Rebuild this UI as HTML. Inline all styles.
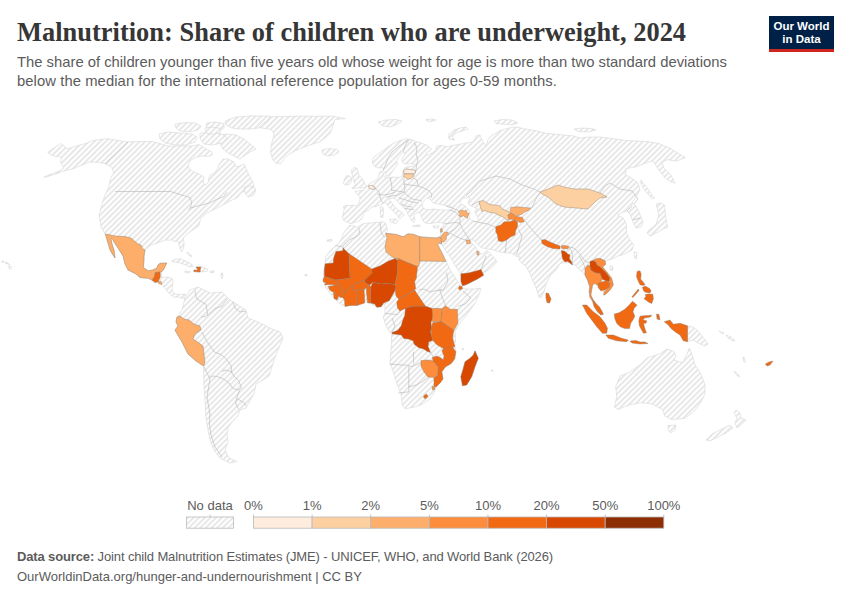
<!DOCTYPE html>
<html><head><meta charset="utf-8">
<style>
html,body{margin:0;padding:0;background:#fff;}
body{width:850px;height:600px;position:relative;overflow:hidden;font-family:"Liberation Sans",sans-serif;}
.title{position:absolute;left:17px;top:17.2px;font-family:"Liberation Serif",serif;font-weight:bold;font-size:26.4px;color:#363636;white-space:nowrap;letter-spacing:0.035px;}
.sub{position:absolute;left:17px;font-size:14.8px;color:#5b5b5b;white-space:nowrap;}
.logo{position:absolute;left:769px;top:16px;width:65px;height:29px;background:#002147;border-bottom:3px solid #ce261e;color:#fff;font-weight:bold;font-size:11.5px;line-height:12.5px;text-align:center;padding-top:4px;box-sizing:content-box;}
.foot{position:absolute;left:17px;font-size:13px;color:#5b5b5b;white-space:nowrap;}
.lg{position:absolute;font-size:13px;color:#5b5b5b;white-space:nowrap;}
svg{position:absolute;left:0;top:0;}
</style></head><body>
<svg width="850" height="600" viewBox="0 0 850 600">
<defs><pattern id="h" patternUnits="userSpaceOnUse" width="4" height="4" patternTransform="rotate(-45 2 2)"><rect x="-1" y="0" width="6" height="4" fill="#fff"/><path d="M -1,2 l 6,0" stroke="#d9d9d9" stroke-width="1.2"/></pattern></defs>
<g fill="url(#h)" stroke="#d6d6d6" stroke-width="0.6" stroke-linejoin="round">
<polygon points="47.6,152.2 54,148 60.6,143.5 63.3,145.2 67,149 72,147.5 78,145.5 81.2,144.6 85.5,143.5 92,140.8 98.5,139.7 107.2,138.7 113.6,139.7 120.1,140.8 126.6,141.9 140,141.5 151,141.4 158,143 168,146 178,146 192,146 199,144.5 206,149 212,152 212,155 208,156.5 203,156 197,157 191,160 188,165 189,169 192,171 196,173 200,174.5 204,177 203,182 205,185 208,183 209,178 210,175 213,174 216,171 218,168 219,164 221,162 223,159 228,159 234,162 236,167 240,166 244,164 246,168 248,173 250,177 253,182 254,187 250,188 246,190 241,193 237.6,197.6 230,201 223.5,204.7 218,207.5 213,210 205.9,213.5 200.6,218.8 198.8,225.9 193.5,229.4 188.5,233 186.8,234.8 184.7,236.6 183.3,238.4 184,242.6 184,245 183,250 181.2,251.8 179.8,247.9 178.4,242.6 177.7,241.2 174.1,241.4 172.4,240.1 164.6,240.1 159,242.5 151,245 145,250 144,256 144,260 143.3,267.5 148.3,270.8 152.5,270 156.7,268.3 158,265 160,263.3 166.7,263 165,266.7 163.3,270 161.7,271.7 161.5,275 161.7,277.5 167.5,277 171.7,278.3 173,280 172.5,285.8 172,290.8 175,294 180,294.5 185,294 186,297 185,298.3 181.7,298.3 178.3,296.7 175,297.5 171.7,295.8 168.3,292.5 165,288.3 162,284.6 158,282 155,282.5 152.5,280.4 148.3,278.3 144,278 140,277.5 136,274 128,270 125,264 123,256 118,248 114,242 112,238 111,239 112,244 114,250 115,258 113,255 110,250 108,243 105,234 101,227 99,215 101,208 103,201 105,195 108.2,188.5 109.3,184.2 110.4,178.7 112,175.5 113.6,173.3 112.6,169 109.3,165.7 105,163.6 98.5,162.5 93,162 87.7,162.5 83.3,164.7 77.9,166.8 72.5,169 67,170.1 61.7,171.7 56.2,173.9 50.8,175.5 44.3,177.7 44,177 50,174.5 56,172.3 61,170 64,168 61.7,164.7 60.6,161.4 61.7,157.1 54,156 50,154.5"/>
<polygon points="185,297 190,290 198,287 204,290 210,293 222,292 230,300 238,305 246,310 248,318 258,322 270,328 280,332 283,338 278,350 274,360 271,370 269,376 263,380 256,384 254,394 248,404 246,408 240,410 238,416 232,422 228,428 227,434 228,442 225,450 229,458 237,461.6 230,463 220,458 214,450 210,440 208,430 206,418 205,400 204,386 203.6,370 203.6,366 196,361 188,354 182,342 176,332 175,330 178,326 176,322 177,317 178,316 182,310 184,302"/>
<polygon points="254.7,125 250,120.3 250,116.2 273.5,116.8 299.4,116.2 332.4,116.2 345.3,118.5 334.7,119.7 333.5,123.8 332.4,128.5 330,133.2 326.5,136.8 320.6,141.5 313.5,143.8 306.5,146.2 300.6,148.5 294.7,150.9 288.8,154.4 284.1,159.1 280.6,163.8 275.9,163.2 272.4,159.1 270.6,152.1 271.2,145 273,139.1 274.1,133.2 271.2,129.7 265.3,128.5 257,127.4"/>
<polygon points="322,150 328,148.6 337,149.4 339,152 334,155 328,156 323,154"/>
<polygon points="218,136 226,134 236,135 244,139 250,144 256,149 250,152 244,156 240,159 234,156 228,153 223,149 220,143"/>
<polygon points="225,121 236,117 250,116 262,116 270,116 268,120 262,124 258,128 250,129 240,129 232,128 226,125"/>
<polygon points="175,124 185,122.6 195,123 201,126 198,130 190,131.8 180,131 176,128"/>
<polygon points="207,123 215,122 224,123.5 224,128 218,131.5 210,131 206,127"/>
<polygon points="159,134 168,132 180,133 192,134 197,137 195,142 186,145 175,145 165,143 160,139"/>
<polygon points="200,133 210,132.5 222,134 227,138 222,143 212,145 204,144 200,139"/>
<polygon points="205,128 212,127 221,128.5 220,133 212,134.5 206,133"/>
<polygon points="244,187 250,186 256,189 254,195 248,197 245,193"/>
<polygon points="171.7,261.3 175,259.2 180,258.8 185,260.8 190,263.3 193.3,265.8 190,267 185.8,265 180.8,263.3 175.8,262 172.5,262"/>
<polygon points="196.3,267 201,266.8 204,267.5 208,269.5 207,271.5 203,271.7 200.2,272 196,271.8 193.8,271.5 194,270 197.5,270.2 197.5,268.5"/>
<polygon points="185,271 190,271.5 189,273 185,272.5"/>
<polygon points="210,271 214,271 214,272.5 210,272.5"/>
<polygon points="350,223.75 348.3,222.5 345.8,221.7 343.3,220 342.5,216.7 343.3,213.3 344.2,209.2 343.3,206.7 346.7,205.4 353.3,205.4 358,205.4 358.8,203.3 360,200 359.7,196.7 357.2,194.2 354.7,191.7 358.8,190.8 363.5,190 366.3,186.7 368,185 371.3,182.5 374.7,180.8 378,178.3 379,175 379.7,172.5 381,170.8 383,172 383.5,174.5 384,176.5 386,178 390,177.5 393.3,177 398.3,177.5 401.7,176.7 402.5,174.2 403,171 404,169 405.8,167.1 410,166.5 415,165.8 416.5,165.3 415,164.2 411.7,163.8 407.5,164.2 403.3,163.3 401.7,160 403.3,156.7 405,153.3 403.3,151.7 401.7,154.2 398.3,157.5 396.7,160.8 397.5,164.2 395.8,166.7 393.3,170 391.7,172.5 390,175 386.7,176.7 385.5,174 384.2,171.7 383.3,170 382.5,166.7 379.2,168.3 375,166.7 372.5,163.3 372.5,159.2 374.1,157 378.8,153.5 383.5,150 388.2,146.5 394.1,143 400,140.6 405.9,138.8 410.6,139.4 415.3,141.2 421.2,143 427,145.3 431.8,148.8 429.4,151.2 426,153 428,155 432,153 436,150 436.5,146.5 440,145.3 447,146.7 456.5,144.8 465.9,143 473,142 476,136 480,135 483,142 486,146 488,140 490.4,136.4 499.8,130.7 509.2,127.9 516.7,126.9 524.2,128.8 535.5,130.7 546.8,133.5 560,134.5 564,135 574,136 580,138 588,137 600,137 626.5,140.6 647,141.5 658.3,143.3 670,148.3 678.3,153.3 685.3,157.5 676.5,161 667.6,159.7 662,162 664,168.5 670.6,174.4 675,183.2 670.6,181.8 664.7,177.4 658.8,170 653,161 647,162.6 635.3,167 626.5,168.5 625,174.4 632.4,178.8 638,183 640,190 636,197 632,203 636,206 639,212 643,222 641,227 636,228 633,222 630,214 627,211 623,212 618,215 623.5,218.5 626.5,225 626.5,233.2 630,240 633.8,245 632,250 628,252 622,255 618,256 612,259 608,260 605,260.8 605,265 601.7,268.3 606.7,273.3 611.7,280 613.3,285 610,290 605,295 603.7,295 604.2,291.7 600.8,290.8 598.3,287.5 595,283.3 592.5,285 591.7,290 590.8,295 593.3,300 595.8,303.3 599.2,306.7 601.7,310.8 603.3,314.2 600.8,315 597.5,311.7 594.2,306.7 592.5,302 590,297.5 589.2,291.7 589.7,286.7 587.5,280 585,275 582,272 578,268 575,265 571.7,263.3 566,262 562,263 560,264 556,270 550,276 546,284 544,292 541,298 539,297 536,288 533,281 530,274 526,266 522.5,263.8 518.8,260 520,256.9 516.3,256.3 511.3,253.1 502.5,252.5 499.3,251.8 492.2,249.7 488,249 481,247.6 473.8,240.5 469,239 471,242 475.2,246.2 478,251.8 482.3,254 486.6,250.4 489.4,252.5 493.7,257.5 497.2,261.7 492.2,267.4 488,270.2 483.7,273 481,275 478,278.7 472.4,281.6 466.7,284.4 462.5,285.8 461,283 460.4,273 455.4,266 449.7,256 444,248 441.5,244 440.3,236.8 440.9,232 442,227.4 444.4,223.8 440.9,222.6 436.2,222.6 429,223.8 424.4,222.6 422,219 420.9,214.4 418.5,212 416,213.2 413.8,215.6 415,219 413.8,222.6 411.5,220.3 410.3,218 408,214.4 406.8,211 403.2,207.4 398.5,202.6 395,198.5 392.6,198 389,199 391.5,202.6 395,206.8 398.5,210.3 402,212.6 404.4,215 401.5,216.8 399.7,219.1 397.4,215.6 393.8,212 389.1,207.4 385.6,202.6 383,203.5 380,205 376,206.5 372,207 369.2,210 365,211.7 363.3,214.2 362.5,217.5 360.8,220 357.5,221.7 353.3,222.9"/>
<polygon points="350,225 353.3,225.8 357.5,227 363.3,223.75 369.2,222.9 375.8,222.5 380,222.1 383.3,221.7 385.8,223.3 386.7,226.7 387.5,230.8 385.6,233.2 390.3,233.8 396.2,234.4 403.2,236.8 408,233.8 413.8,234.4 419.7,236.8 428,237.4 436.2,238 440.3,236.8 441.5,239 441.5,244 439,243 437.7,244.7 441.5,252 445.5,260.3 451.2,271.7 456.8,280.2 459.7,284.4 461,287 466,289 474,289 481,288 480,292 475,303.3 466.7,315 458.3,325 455,331.7 455.5,340 454.7,345.9 455.9,351.8 454.7,358.8 451.2,363.5 445.3,367 441.8,371.8 443,378.8 440.6,382.4 436,387 434.7,391.8 430,398.8 423,404 414.7,407 405.3,408.8 402.4,405.9 401,394 397,383.5 393.5,373 390,362.4 391,349.4 391.5,340 391.7,334 388.3,330 385,323.3 383.3,316.7 385,313.3 385,306 383.3,304 378.6,307.4 374,305.6 370,303.3 366,302 356,304 350,305.5 344,306 339,303 334,298 330,293 326,288 323,280 324,270 325,262 326,256 330,251 333,248 336.7,245 339.2,242.5 341.7,238.3 343.3,233.3 346.7,229.2"/>
<polygon points="353.8,167.5 357.2,168.3 358,171.7 358.8,175 361.3,177.5 363,180 364.7,183.3 365.9,185.8 364.7,187.5 361.3,187.9 358,187.9 354.7,188.75 351.8,188.3 353.8,186.25 355.9,185 354.7,183.3 353.8,180.8 353,178.3 352.6,175.8 351.8,173.3 351.3,170"/>
<polygon points="346.3,175.8 349.7,175.8 351.75,178.3 351.3,181.7 349.7,184.2 345.5,185 343.4,183.3 344.3,180"/>
<polygon points="378,122 386,120 396,119.5 402,121 398,124 390,127 383,126"/>
<polygon points="426,119.5 432,119 436,120 432,121.5 427,121"/>
<polygon points="448,135 454,130 460,128 466,127 468,129 462,131 456,133 452,137 455,140 449,139"/>
<polygon points="494,121 502,119.5 512,120 518,123 512,125 502,124 496,123.5"/>
<polygon points="574,129 582,128 592,128.5 596,130 588,132 578,131.5"/>
<polygon points="641,180 644,184 648,189 652,195 654.4,198 652,199 648,194 644,189 641,184"/>
<polygon points="656,204 661,203 664.7,205.3 665,212 666,218.5 667.6,227.4 663,229 658.8,231.8 654,234 650,236.2 647,233 649,230 655.9,224.4 658.8,215.6 657.4,208.2"/>
<polygon points="634,252 637,252.5 636.5,259 634.5,258"/>
<polygon points="610,266 613,266.5 612.5,270.5 610,270"/>
<polygon points="546,293 548.5,293.5 551,299 549.5,303 547,302.5 546,298"/>
<polygon points="389.5,219.5 396,219 398.2,220.5 396,223.8 391,222"/>
<polygon points="380.2,207 382.8,206.7 383.5,210 383,217.5 380.5,217 380.3,212"/>
<polygon points="413,225.5 420,225 420,226.3 413,226.8"/>
<polygon points="433,226 439,225.8 438,228 434,228"/>
<polygon points="475,350.8 478.3,358.3 475,366.7 471.7,376.7 466.7,385 462.5,385.8 460.8,376.7 463.3,368.3 465,361.7 470,358.3 473.3,355"/>
<polygon points="615.6,387 620,375.9 629,372.5 640.2,364.7 647,358 653.6,355.8 660.3,353.5 667,349 673.8,351.3 676,355.8 673.8,360.2 682.7,362.5 687.2,353.5 689.4,348 691.6,353.5 695,364.7 700.6,373.6 705,384.8 705,393.8 700.6,402.7 693.9,411.6 685,418.3 671.5,419.5 664.8,416.1 662.6,409.4 658.1,407.2 651.4,403.8 640.2,402.7 629,405 617.9,409.4 614.5,407.2 616.8,396"/>
<polygon points="668,425.5 676,425 675,430 671,433 668,430"/>
<polygon points="736,410 740,413 741,418 746,420 741,425 737,428 735,423 737,418 734,413"/>
<polygon points="730,425 733,428 726,433 718,437 710,441 706,440 712,434 720,430"/>
<polygon points="687.5,325.8 693,327 698,331 702,336 708,344 705,346 698,343 693,340 687.5,341.7"/>
<polygon points="734,371.5 736,372 740,376.5 738.5,377"/>
<polygon points="719,331 724,333 722,334"/>
<polygon points="2,261 3.6,260.8 3.2,262.3 2.1,262.2"/>
<polygon points="5,262 7,262.6 9,263.8 10,265 8.6,264.6 6.5,263.5 5,262.9"/>
<polygon points="9,266 11.5,266.8 11.2,268.6 9.5,269.3 8.8,267.5"/>
<polygon points="726,335 731,337 735,340.5 733,341 728,338"/>
<polygon points="743,357 744.8,358 745,362.5 743.6,361.5"/>
<polygon points="462,348.5 463.5,348.6 463.4,349.8 462,349.8"/>
<polygon points="491.5,370 493,370 493,371.2 491.5,371.2"/>
<polygon points="187,252 189,253.5 192,256 191.5,257 188.5,255 186.8,253"/>
<polygon points="221,273 222.5,273 223,276 222,279 221.3,277"/>
<polygon points="305,274.5 307,274.5 307,276 305,276"/>
<polygon points="327,240 332,239.5 332,241 327,241.3"/>
</g>
<g fill="#fff" stroke="#d6d6d6" stroke-width="0.6">
<polygon points="422,203.8 424.4,200.3 426.8,198 430.3,199 432.6,202.6 437.4,203.8 443.2,205 449.1,206.2 453.8,208.5 450.3,209.7 445.6,210.3 439.7,209.7 433.8,209 428,209.7 423.2,208.5"/>
<polygon points="459.8,202.3 462.8,198.5 468,197 470.3,198.5 468,202.3 469.5,205.3 473.3,206.8 477.8,209 474.8,210.5 475.5,213.5 477.8,217.3 478.5,220.3 475.5,221.8 472.5,221 469.5,218 468.8,215 470.3,212.8 468,209 465,206 462,204.5"/>
</g>
<g fill="none" stroke="#bfbfbf" stroke-width="0.7" stroke-linejoin="round">
<polyline points="115,191.5 170.6,191.5 175.9,193.2 184.7,195.9 190,197.6 191.8,203 190,208.2 188.2,210"/>
<polyline points="190,208.2 198.8,205.6 209.4,203 216.5,199.4 223.5,196.8 227,192.4"/>
<polyline points="128,142 105,164"/>
<polyline points="195,291 196.5,298.5 201,301.5 206.2,304.5 207,310.5 207.7,315"/>
<polyline points="201,317 205,316.5 207.7,315 214.5,309 222,306 225,301.5 228,299"/>
<polyline points="233,302 235,308 240,312 246,311"/>
<polyline points="202,332 206,340 210,346 214.5,352 222,355 226.5,359.5 231,365.5 231.8,373"/>
<polyline points="204,367 207,373 210,379 208.5,388 207,397 208.5,406 210,415 209.3,424 211,435 215,447 222,457"/>
<polyline points="210,377.5 213,376 217.5,376.7 223.5,379 229.5,383.5 232.5,388 237,390 241.5,388 238.5,380.5 234,376 231,371.5 225,370 222,371.5"/>
<polyline points="240,389.5 237,397 235.5,403 238.5,409"/>
<polyline points="237,398.5 244.5,403 246,406"/>
<polyline points="358.8,228 360,233.8 355.3,237.4 349.4,239.7 343.5,245.6 342.4,248 343.5,248"/>
<polyline points="335.3,245.6 342.4,246.8"/>
<polyline points="380,223.2 381.2,232.6 384.7,237.4"/>
<polyline points="418.7,290 424,289 430,292 436,290.5 442,290"/>
<polyline points="446.6,272.5 447.8,281.8 443,290 439.6,290"/>
<polyline points="439.6,290 443,299.3 445.5,305"/>
<polyline points="463,291 471,298.1 465.3,304 458.3,306.3"/>
<polyline points="389.4,364 398.2,364.7 407.6,365.3 411.2,366.5"/>
<polyline points="408.8,366.5 408.8,387"/>
<polyline points="398.2,393 408.8,391.8 408.8,387"/>
<polyline points="408.8,387 417,384.7 423,381.2 428,377"/>
<polyline points="413.5,351.8 413.5,363.5"/>
<polyline points="411.2,366.5 418,364 421,362"/>
<polyline points="430.5,352.5 433,356 432.4,357.6"/>
<polyline points="385,313.3 392,314 397.5,314.5 400,311"/>
<polyline points="392,318 395,326 392,332.6"/>
<polyline points="342.5,290.5 340,294 338.4,297"/>
<polyline points="373,186 376,189 379,192 380,196 381,200 383,203"/>
<polyline points="390,177.5 391,182 392,187 391,190"/>
<polyline points="377,194 383,195 390,194 395,192"/>
<polyline points="404,178.5 404,184 405,189 404,192"/>
<polyline points="391,190 397,191 404,192"/>
<polyline points="386,197 392,196 398,195 402,193 404,192"/>
<polyline points="413,178 417,180 418,186"/>
<polyline points="418,186 424,188 428,190 432,194 431,198"/>
<polyline points="404,184 410,185 418,186"/>
<polyline points="404,192 408,196 412,199 418,200 422,201"/>
<polyline points="399,198 406,200 412,202 418,203"/>
<polyline points="401,204 406,206 412,207"/>
<polyline points="404,208 408,209 414,209.5"/>
<polyline points="416.5,165.3 418,160 416,154 417,148 414,142"/>
<polyline points="383.3,170 386,164 388,158 392,152 398,147 405,142 410,139.4"/>
<polyline points="403.3,151.7 405,146 408,141"/>
<polyline points="416.5,165.3 416,170 415.5,172.5 413.5,176.5"/>
<polyline points="444.4,223.8 450,223 456,222.5 460,223.5"/>
<polyline points="450,210 455,212 458,214 460,218 460,223.5"/>
<polyline points="446,206 452,208 458,210.5"/>
<polyline points="449,232.5 454,230 458,226 460,223.5"/>
<polyline points="460,223.5 462,228 465,233 469,239"/>
<polyline points="449,232.5 455,236 462,239 466,240"/>
<polyline points="481,269.5 484,262 486,256"/>
<polyline points="506.5,240.4 506,246 505,252.5"/>
<polyline points="473,221 480,222.6 488,224 495.8,227.4"/>
<polyline points="472,205 479,201.4"/>
<polyline points="466,196 472,190 480,181 496,176 510,179 522,185 534,189 540,192"/>
<polyline points="531.7,208 534,203 537,197 540,192"/>
<polyline points="600,193 605,186 610,183 620,189 632,191 638,199 634,204"/>
<polyline points="524,219 528,225 534,232 541.6,240"/>
<polyline points="569,247 574,248 578,252 582,257 586,262 590.8,262.5"/>
<polyline points="518,229 522,236 520,243 518,250 516.3,254.7"/>
<polyline points="569,247 572,252 572.5,258 572,264.5"/>
<polyline points="627,211 632,206"/>
<polyline points="633,220 640,218"/>
<polyline points="585,268.3 583,262 579,256"/>
</g>
<g stroke="#8c7a6b" stroke-width="0.5" stroke-opacity="0.85" stroke-linejoin="round">
<polygon fill="#fdae6b" points="105.4,234 111,235 115,236 125,236.6 131,238 138,244 141,245 143,249 145,250 144,256 144,260 143.3,267.5 148.3,270.8 152.5,270 156.7,268.3 158,265 160,263.3 166.7,263 165,266.7 163.3,270 161.7,271.7 160,272 155.4,272.5 155,274.6 154.6,276.3 153.3,278.3 152.5,280.4 148.3,278.3 144,278 140,277.5 136,274 128,270 125,264 123,256 118,248 114,242 112,238 111,239 112,244 114,250 115,258 113,255 110,250 108,243"/>
<polygon fill="#f16913" points="155.4,272.5 160,272 160.4,276.7 158,281.7 155,282.5 152.5,280.4 153.3,278.3 154.6,276.3 155,274.6"/>
<polygon fill="#fdae6b" points="158,281.7 160.5,281 162,283 161.5,284.6 158.5,283.5"/>
<polygon fill="#f16913" points="196.3,267 200.9,267 200.3,270 200.2,272 196,271.8 193.8,271.5 194,270 197.5,270.2 197.5,268.5 196.3,268.2"/>
<polygon fill="#fdae6b" points="177,317 180,316 184,319 189,320 194,324 200,326 201,330 195,334 193,339 199,343 203,346 204,354 205,362 203.6,366 196,361 188,354 182,342 176,332 175,330 178,326 176,322"/>
<polygon fill="#fdae6b" points="385.6,233.2 390.3,233.8 396.2,234.4 403.2,236.8 408,233.8 413.8,234.4 419.7,236.8 419.8,261 418.7,266.7 417.5,266.7 397.7,258.5 395,258.4 391,256 386,252 385,246 387,238"/>
<polygon fill="#fdae6b" points="419.7,236.8 428,237.4 436.2,238 440.3,236.8 441.5,239 441.5,244 439,243 437.7,244.7 441.5,252 445.5,260.3 446,261.4 419.8,261"/>
<polygon fill="#d94801" points="343,248 349,253.7 350,278.2 335.5,280 324.4,276.5 324.3,270 325.2,263.7 333.2,263 333.7,257.8 336,251.4 343,250.8"/>
<polygon fill="#f16913" points="349,253.7 371.6,268.9 372.2,273 364.6,280 356.5,283.5 351.8,285.8 346,291.6 342.5,290.5 338,284 335.5,280 350,278.2"/>
<polygon fill="#d94801" points="371.6,268.9 379.8,266 388,261.3 395,258.4 397.9,260.2 397.3,274.2 395,284.6 388,283.5 381,284 372.8,282.3 369.3,285.2 364.6,282.3 364.6,280 372.2,273"/>
<polygon fill="#f16913" points="364.6,280 364.6,282.3 369.3,285.2 367,287.5 364,289.5 358,290 354,290.5 351.8,285.8 356.5,283.5"/>
<polygon fill="#d94801" points="371,286.5 372.8,282.3 381,284 388,283.5 395,284.6 396,286.7 395.3,290 392,296 389.3,300.7 386,302 383.3,303.3 381.3,306.7 376.7,307.3 374.7,304 370.5,303 370.5,297.5 370.5,291.6"/>
<polygon fill="#f16913" points="367,287.5 369.3,285.2 371,286.5 370.5,291.6 370.5,297.5 370.5,303 367.5,302.8 366.8,295 366.3,290"/>
<polygon fill="#f16913" points="356.5,290.5 358,290 364,289.5 364.5,296 364.6,303 360,304.5 357,305.6 356.5,298"/>
<polygon fill="#f16913" points="344,292 346,291.6 351.8,285.8 354,290.5 356.5,290.5 356.5,298 357,305.6 350,305.5 345,306.5 344.5,300 342.8,297.5"/>
<polygon fill="#f16913" points="328.5,286.5 336,285 338,284 342.5,290.5 346,291.6 344,292 342.8,297.5 341,297.5 338.4,296 335,293 331,291 329,289"/>
<polygon fill="#f16913" points="333.5,293 337,293.5 338.4,297 337,300 334,298.5"/>
<polygon fill="#f16913" points="323,280 324.4,276.5 331,278.5 335.5,280 338,284 336,285 330,284.5 324.5,285 326,283 323.5,282"/>
<polygon fill="#f16913" points="397.7,258.5 417.5,266.7 416.3,278.3 414.6,281.8 415.7,288.8 409.3,293.5 404.7,295.8 398.8,299.3 396,296 395.3,291 396,287 395,284.6 397.3,274.2 397.9,260.2"/>
<polygon fill="#f16913" points="398.8,299.3 404.7,295.8 409.3,293.5 414.6,290 417.5,294.6 422.2,301.6 425.6,306.3 422.2,306.3 414,306.3 408.2,307.5 402.3,309.8 400,311 397.5,308 396.7,302"/>
<polygon fill="#d94801" points="405,308.8 408.2,307.5 414,306.3 422.2,306.3 425.6,306.3 431.6,308.2 433.4,311.7 432.8,317.5 431,322.7 431.6,328 430.5,331.5 431.6,336 432.8,340.2 428.7,342 428.1,346.6 430.5,352.5 427,351.3 423.5,349 418.8,347.8 414.2,344.3 413,340.8 408.3,339 403.7,338.5 401.3,335 392,333.8 392,332.6 397.8,330.3 401.3,325.7 402.5,321 404.8,315.2 405.4,309.3"/>
<polygon fill="#fd8d3c" points="432.2,308.5 436,308.3 441.6,308.7 442.1,314 441,321.6 436,321.6 432.5,322"/>
<polygon fill="#fd8d3c" points="442.1,308.7 445.6,305.8 450.3,309.3 457.3,309.3 457.9,323.3 453.8,330.3 448,326.2 441,321.6 442.1,314"/>
<polygon fill="#f16913" points="432.8,322.7 441,321.6 448,326.2 453.8,330.3 452.6,337.3 453.8,343.1 455,346.6 450.3,347.8 444.5,349 439.8,346.6 436.3,344.3 432.8,340.2 431.6,336 431,329"/>
<polygon fill="#f16913" points="443,349 452.4,347 455.9,351.8 454.7,358.8 451.2,363.5 445.3,367 441.8,371.8 443,378.8 440.6,382.4 436,387 434,386.5 434,378 437.6,375.3 438.2,367 433,361 432.4,357.6 437,356 441,358 443.5,360 444,356 442,351"/>
<polygon fill="#fd8d3c" points="421,360.5 428,360 433,361 438.2,367 437.6,375.3 434,377.6 428,377 424,372 421,366"/>
<polygon fill="#fd8d3c" points="432,386.5 434.5,386.8 434.7,389.5 432.5,390"/>
<polygon fill="#f16913" points="424,395.5 426.5,394 428,396.5 425.5,398.8 423.5,397.5"/>
<polygon fill="#d94801" points="475,350.8 478.3,358.3 475,366.7 471.7,376.7 466.7,385 462.5,385.8 460.8,376.7 463.3,368.3 465,361.7 470,358.3 473.3,355"/>
<polygon fill="#f16913" points="459,286.5 461.5,286 462.5,288.5 460,290 458.5,289"/>
<polygon fill="#d94801" points="461,273.8 468.2,273 476,271 481,269.5 483.7,275.2 478,278.7 472.4,281.6 466.7,284.4 462.5,285.8 461,281.6"/>
<polygon fill="#fdae6b" points="444.2,232.5 447.8,232 448.8,234.4 446,236.2 446.5,239 444.2,241.7 441.4,242.2 441,239 441.9,235.3"/>
<polygon fill="#fdae6b" points="440.3,229 442,228.5 442.5,232 440.6,232.3"/>
<polygon fill="#fdae6b" points="466,240 470,240 470.5,243.5 467,244"/>
<polygon fill="#fdae6b" points="476.8,251.3 478.8,251.3 479,255 477,255"/>
<polygon fill="#fdae6b" points="458.3,211.3 461.3,210.1 464.3,210.9 465.8,210.1 467.3,213.1 469.1,213.5 468,215.8 467.3,218.4 465.8,217.3 463.5,215.8 461.3,216.9 459,215.8 460.1,213.9"/>
<polygon fill="#fdd0a2" points="479,201.4 483.5,200.6 490,204.6 498.3,205.4 500.8,206.7 502.5,209.2 506.7,210.8 509.2,211.7 510,212.5 507.9,215.8 509.2,219.2 508.8,220.8 505.8,219.2 502.5,216.7 498.3,215 494.2,212.9 490,212.5 485,210.6 482,211.4 480.5,207.5"/>
<polygon fill="#fdae6b" points="510.8,207.5 517.5,206.7 523.3,207.5 530.8,207.9 529.2,210 525,211.7 521.7,214.2 517.5,215.8 514.2,215 510.8,214.2 510,211.7"/>
<polygon fill="#fd8d3c" points="507.9,215 511.7,213.3 515,215.8 518.3,216.7 522.5,217.5 524.2,221.7 520,222.5 515,220 510.8,219.2 509.2,219.2"/>
<polygon fill="#f16913" points="495.8,226.7 500.8,225 504.2,221.7 509.2,221.7 515,220 517.5,222.5 517.5,226.7 515.8,230 515,235 510.8,236.7 506.7,240 501.7,241.7 498.3,240.8 497.5,235 495.8,231.7"/>
<polygon fill="#fdd0a2" points="540,192 548,189 558,185 564,187 574,189 588,189 594,191 600,193 607,197 600,198 594,203 588,209 576,208 564,207 556,204 548,197 542,194"/>
<polygon fill="#f16913" points="541.6,240 545,239.6 550,242 556,244.5 560,246 560,249 553,248.5 547,246.5 542,243.5"/>
<polygon fill="#fd8d3c" points="561.3,245.8 565,245.6 568.8,246.5 568,248.8 564,248.8 561.5,248.3"/>
<polygon fill="#d94801" points="561.3,250.6 565,251.3 567.5,253.8 570,255 569.4,258.8 571.3,261.3 572.5,265 570,263.1 567.5,261.3 565,261.9 562.5,258.8 561.9,255"/>
<polygon fill="#f16913" points="546,293 548.5,293.5 551,299 549.5,303 547,302.5 546,298"/>
<polygon fill="#fd8d3c" points="585,268.3 588,265 590,266 591,270 594,272 597,273 600,273 602.5,279.2 600,283.3 598.3,285.8 595,283.3 592.5,285 591.7,290 590.8,295 593.3,300 595,302.5 592.5,300.8 590,297.5 589.2,291.7 589.7,286.7 587.5,280 585,275"/>
<polygon fill="#d94801" points="590,261.5 593,260.5 596,262 597,265 600,266.5 601.7,268.3 606.7,273.3 610,278.3 609.2,281.7 605.8,280.8 602.5,279.2 600,273 597,273 594,272 591,270 590,266"/>
<polygon fill="#f16913" points="598.3,283.3 602.5,281.7 606.7,280.8 610,283.3 609.2,287.5 605,290 600.8,290.8 598.3,287.5"/>
<polygon fill="#fd8d3c" points="593,260.5 596,258.8 600,258.3 605,260.8 605.8,264.2 602.5,266.7 606.7,271.7 611.7,278.3 613.3,285 610,290 605.8,294.2 603.7,295 604.2,291.7 609.2,287.5 610,283.3 609.2,281.7 610,278.3 606.7,273.3 601.7,268.3 600,266.5 597,265 596,262"/>
<polygon fill="#f16913" points="592.5,300 595.8,303.3 599.2,306.7 601.7,310.8 603.3,314.2 600.8,315 597.5,311.7 594.2,306.7 593,302.5"/>
<polygon fill="#f16913" points="582.5,305 586.7,305 593.3,311.7 600,316.7 605,323.3 607.5,328.3 606.7,333.3 602.5,333.3 596.7,326.7 591.7,320 586.7,313.3"/>
<polygon fill="#f16913" points="605.8,335 613.3,335 621.7,338.3 628.3,340 626.7,341.7 616.7,340.8 608.3,338.3"/>
<polygon fill="#f16913" points="614.3,314 619,312.8 624.8,309.3 629.5,304.7 632.4,301.2 635.3,303.5 637,305.3 634.2,308.2 633,311.7 634.8,316.3 633,319.8 630.7,323.3 629.5,328.6 624.8,328.6 620.2,326.8 616.7,323.3 614.9,318.7"/>
<polygon fill="#f16913" points="640,316.3 643.5,315.8 651.7,315.2 650.5,317 644.7,318.1 642.9,319.8 647,321 645.8,323.3 643.5,323.3 644.7,328 646.4,332.7 643.5,333.3 641.2,329.2 639.4,325.7 638.8,321 639.4,318.1"/>
<polygon fill="#f16913" points="637.1,271.4 640,270.8 641.2,274.3 640.6,279 643.5,282.5 645,284.5 643,285.5 640,284.8 638.3,281.3 636.5,276.7"/>
<polygon fill="#f16913" points="642.3,287.5 645,286 649.3,288.3 651.1,290.7 650,293 646.5,292.5 644,291.5"/>
<polygon fill="#f16913" points="645.3,294.5 649,294 652.8,294.2 653.4,298.8 651.7,303.5 648.8,302.3 645.8,300 644.1,298.8 645.8,296.5"/>
<polygon fill="#f16913" points="632,296.7 638.3,289 639,290.5 633,297.5"/>
<polygon fill="#f16913" points="630,341 636,340.5 640,342 645,342 648,343.5 640,344 632,343"/>
<polygon fill="#f16913" points="656.5,314 659,314.5 660,320 657,319"/>
<polygon fill="#f16913" points="664.2,321.7 670,320 673.3,324.2 680,323.3 687.5,325.8 687.5,341.7 683.3,340.8 680,335 675,331.7 670.8,328.3 668.3,325"/>
<polygon fill="#f16913" points="765.4,364 769,362 773,361 770,365 767,366"/>
<polygon fill="#feedde" points="403.5,170.5 406,169 410.6,169.5 415,170 415.5,172.5 413,174 408,173.8 404,174"/>
<polygon fill="#fdd0a2" points="404,174 408,173.8 413,174 413.5,176.5 411,178.5 408,179.4 405.5,177.5 403.5,176.5"/>
<polygon fill="#feedde" points="368.2,186 371,185.3 374.5,186.5 375.3,189 372,189.4 369,188"/>
</g>
</svg>
<div class="title">Malnutrition: Share of children who are underweight, 2024</div>
<div class="sub" style="top:54.3px">The share of children younger than five years old whose weight for age is more than two standard deviations</div>
<div class="sub" style="top:72.6px;letter-spacing:0.075px">below the median for the international reference population for ages 0-59 months.</div>
<div class="logo">Our World<br>in Data</div>
<svg width="850" height="600" viewBox="0 0 850 600" style="position:absolute;left:0;top:0"><defs><pattern id="h2" patternUnits="userSpaceOnUse" width="4" height="4" patternTransform="rotate(-45 2 2)"><rect x="-1" y="0" width="6" height="4" fill="#fff"/><path d="M -1,2 l 6,0" stroke="#d9d9d9" stroke-width="1.2"/></pattern></defs><rect x="186.5" y="517" width="47" height="11.2" fill="url(#h2)" stroke="#bbb" stroke-width="0.8"/><line x1="210" y1="514.5" x2="210" y2="517" stroke="#bbb" stroke-width="0.8"/><rect x="253.50" y="517" width="58.61" height="11.2" fill="#feedde" stroke="#b8b8b8" stroke-width="0.8"/><rect x="312.11" y="517" width="58.61" height="11.2" fill="#fdd0a2" stroke="#b8b8b8" stroke-width="0.8"/><rect x="370.73" y="517" width="58.61" height="11.2" fill="#fdae6b" stroke="#b8b8b8" stroke-width="0.8"/><rect x="429.34" y="517" width="58.61" height="11.2" fill="#fd8d3c" stroke="#b8b8b8" stroke-width="0.8"/><rect x="487.96" y="517" width="58.61" height="11.2" fill="#f16913" stroke="#b8b8b8" stroke-width="0.8"/><rect x="546.57" y="517" width="58.61" height="11.2" fill="#d94801" stroke="#b8b8b8" stroke-width="0.8"/><rect x="605.19" y="517" width="58.61" height="11.2" fill="#8c2d04" stroke="#b8b8b8" stroke-width="0.8"/><line x1="253.50" y1="514.5" x2="253.50" y2="517" stroke="#b8b8b8" stroke-width="0.8"/><line x1="312.11" y1="514.5" x2="312.11" y2="517" stroke="#b8b8b8" stroke-width="0.8"/><line x1="370.73" y1="514.5" x2="370.73" y2="517" stroke="#b8b8b8" stroke-width="0.8"/><line x1="429.34" y1="514.5" x2="429.34" y2="517" stroke="#b8b8b8" stroke-width="0.8"/><line x1="487.96" y1="514.5" x2="487.96" y2="517" stroke="#b8b8b8" stroke-width="0.8"/><line x1="546.57" y1="514.5" x2="546.57" y2="517" stroke="#b8b8b8" stroke-width="0.8"/><line x1="605.19" y1="514.5" x2="605.19" y2="517" stroke="#b8b8b8" stroke-width="0.8"/><line x1="663.80" y1="514.5" x2="663.80" y2="517" stroke="#b8b8b8" stroke-width="0.8"/></svg>
<div class="lg" style="left:186.5px;top:498px;width:47px;text-align:center">No data</div>
<div class="lg" style="left:223.50px;top:498px;width:60px;text-align:center">0%</div>
<div class="lg" style="left:282.11px;top:498px;width:60px;text-align:center">1%</div>
<div class="lg" style="left:340.73px;top:498px;width:60px;text-align:center">2%</div>
<div class="lg" style="left:399.34px;top:498px;width:60px;text-align:center">5%</div>
<div class="lg" style="left:457.96px;top:498px;width:60px;text-align:center">10%</div>
<div class="lg" style="left:516.57px;top:498px;width:60px;text-align:center">20%</div>
<div class="lg" style="left:575.19px;top:498px;width:60px;text-align:center">50%</div>
<div class="lg" style="left:633.80px;top:498px;width:60px;text-align:center">100%</div>
<div class="foot" style="top:549px;letter-spacing:-0.135px"><b>Data source:</b> Joint child Malnutrition Estimates (JME) - UNICEF, WHO, and World Bank (2026)</div>
<div class="foot" style="top:569px">OurWorldinData.org/hunger-and-undernourishment | CC BY</div>
</body></html>
